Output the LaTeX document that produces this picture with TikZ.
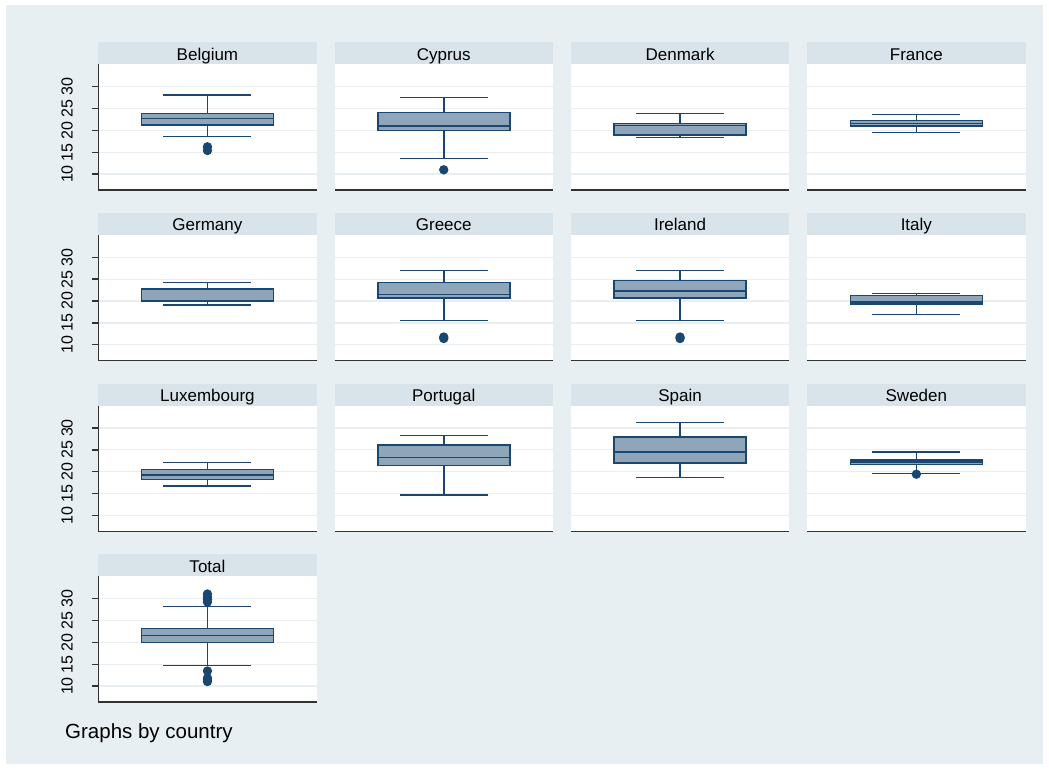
\documentclass[tikz,border=0pt]{standalone}
\usepackage{fontspec}
\setmainfont{Liberation Sans}
\definecolor{bgc}{HTML}{E8EFF2}
\definecolor{stripc}{HTML}{D8E4EA}
\definecolor{gridc}{HTML}{E8EEF2}
\definecolor{boxfill}{HTML}{8FA5BA}
\definecolor{navyc}{HTML}{1A476F}
\definecolor{axisc}{HTML}{333333}
\tikzset{
  grid line/.style={draw=gridc, line width=1.3pt},
  axis line/.style={draw=axisc, line width=1.4pt},
  box line/.style={draw=navyc, line width=1.5pt},
  panel title/.style={anchor=base, inner sep=0pt, font=\fontsize{17}{20}\selectfont},
  tick label/.style={anchor=base, rotate=90, inner sep=0pt, font=\fontsize{16}{19}\selectfont},
  outlier/.style={fill=navyc}
}
% #1 x0, #2 yoff, #3 node name, #4 title, #5 upper whisker, #6 box top, #7 median, #8 box bottom, #9 lower whisker
\newcommand\bxpanel[9]{%
  \begin{scope}[shift={(#1,#2)}]
    \fill[stripc] (0,42.3) rectangle (218.3,64.3);
    \fill[white] (0,64.3) rectangle (218.3,190);
    \foreach \g in {86.7,108.5,130.3,152.2,174} \draw[grid line] (0,\g) -- (218.3,\g);
    \draw[axis line] (0,190) -- (218.3,190);
    \node[panel title] (#3) at (109.15,60.2) {#4};
    \draw[box line] (109.15,#5) -- (109.15,#6) (109.15,#8) -- (109.15,#9);
    \draw[box line] (65.15,#5) -- (153.15,#5) (65.15,#9) -- (153.15,#9);
    \draw[box line, fill=boxfill] (43.15,#6) rectangle (175.15,#8);
    \draw[box line] (43.15,#7) -- (175.15,#7);
  \end{scope}}
% y axis for column 1: #1 yoff, #2 name prefix
\newcommand\yaxispanel[2]{%
  \begin{scope}[shift={(98.3,#1)}]
    \draw[axis line] (0,64.3) -- (0,190.7);
    \foreach \g/\v in {86.7/30,108.5/25,130.3/20,152.2/15,174/10} {
      \draw[axis line] (-6.5,\g) -- (0,\g);
      \node[tick label] (#2\v) at (-25.6,\g) {\v};
    }
  \end{scope}}
\begin{document}
\begin{tikzpicture}[x=1pt, y=-1pt]
\useasboundingbox (0,0) rectangle (1049,769);
\fill[bgc] (6,5) rectangle (1043,764);
% row 1
\bxpanel{98.3}{0}{belgium}{Belgium}{95}{113.3}{118.3}{125}{136.7}
\bxpanel{334.6}{0}{cyprus}{Cyprus}{97.7}{112.7}{126}{130.7}{158.7}
\bxpanel{570.9}{0}{denmark}{Denmark}{113.7}{123.7}{125.7}{135}{137.3}
\bxpanel{807.2}{0}{france}{France}{114.7}{120.7}{123.3}{126}{132.3}
% row 2
\bxpanel{98.3}{170.67}{germany}{Germany}{112}{118.3}{129.7}{130.7}{134.3}
\bxpanel{334.6}{170.67}{greece}{Greece}{100}{111.7}{123.7}{127.3}{150}
\bxpanel{570.9}{170.67}{ireland}{Ireland}{100}{110}{120.3}{127.3}{150}
\bxpanel{807.2}{170.67}{italy}{Italy}{122.7}{125}{131.3}{133.3}{144}
% row 3
\bxpanel{98.3}{341.33}{luxembourg}{Luxembourg}{121}{128.3}{133.7}{138.3}{144.7}
\bxpanel{334.6}{341.33}{portugal}{Portugal}{94.3}{103.7}{116.3}{124}{153.7}
\bxpanel{570.9}{341.33}{spain}{Spain}{81.3}{95.7}{110.7}{121.7}{136.3}
\bxpanel{807.2}{341.33}{sweden}{Sweden}{110.7}{118.7}{120.7}{123.3}{132}
% row 4
\bxpanel{98.3}{512}{total}{Total}{94.7}{116.3}{123.7}{130.7}{153.7}
% y axes
\yaxispanel{0}{ya}
\yaxispanel{170.67}{yb}
\yaxispanel{341.33}{yc}
\yaxispanel{512}{yd}
% outliers
\foreach \p in {(207.45,146.8),(207.45,150.5),
                (443.75,169.8),
                (443.75,337),(443.75,338.5),
                (680.05,337),(680.05,338.5),
                (916.35,474.2),
                (207.45,594),(207.45,597),(207.45,599.5),(207.45,602),
                (207.45,671),(207.45,678),(207.45,680),(207.45,681.5)}
  \fill[outlier] \p circle (4.7pt);
\node[anchor=base west, inner sep=0pt, font=\fontsize{20.5}{24}\selectfont] (note) at (65,738.3) {Graphs by country};
\end{tikzpicture}
\end{document}
